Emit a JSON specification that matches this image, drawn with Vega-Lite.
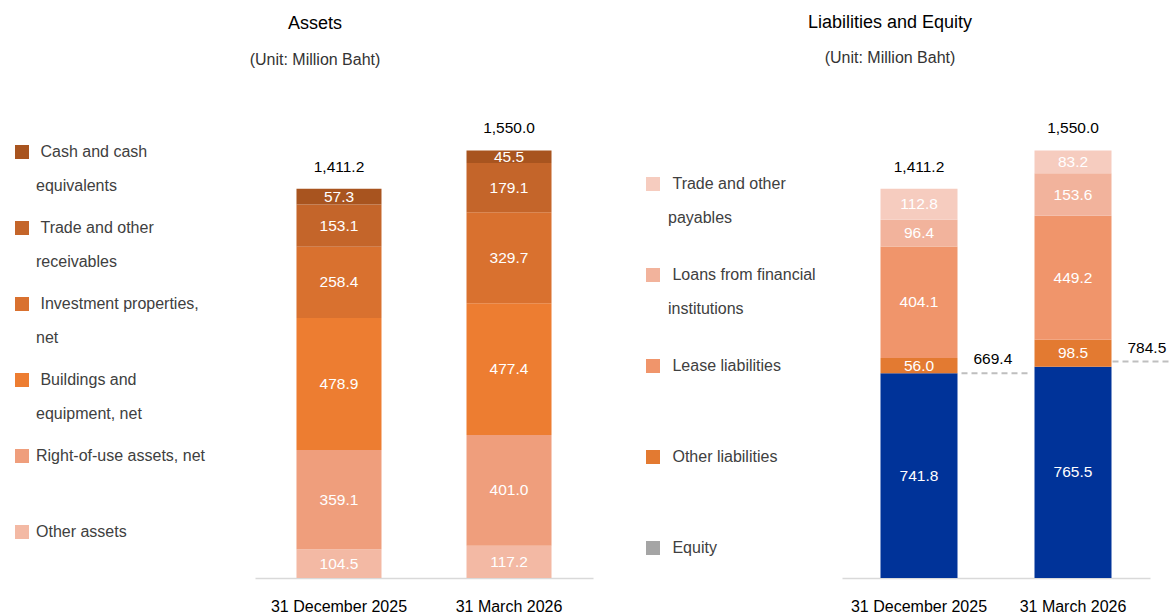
{
  "$schema": "https://vega.github.io/schema/vega-lite/v6.json",
  "autosize": {"type": "pad"},
  "padding": {"left": 14, "top": 14, "right": 0, "bottom": 0},
  "spacing": 249,
  "bounds": "flush",
  "config": {
    "view": {"stroke": null},
    "font": "Liberation Sans",
    "axisX": {"labelFontSize": 16, "labelColor": "#000000", "labelFont": "Liberation Sans", "ticks": false, "tickSize": 0, "labelPadding": 20, "domainColor": "#D9D9D9", "domainWidth": 1.5, "grid": false, "labelAngle": 0},
    "text": {"font": "Liberation Sans"}
  },
  "resolve": {"scale": {"color": "independent", "x": "independent", "y": "independent"}, "legend": {"color": "independent"}},
  "hconcat": [
    {
      "width": 338,
      "height": 469,
      "title": {"text": "Assets", "subtitle": "(Unit: Million Baht)", "frame": "group", "anchor": "middle", "dx": -109, "offset": 41, "fontSize": 18, "fontWeight": "normal", "font": "Liberation Sans", "color": "#000000", "subtitleFontSize": 16, "subtitleColor": "#333333", "subtitleFont": "Liberation Sans", "subtitlePadding": 19},
      "data": {"values": [
        {"date": "31 December 2025", "category": "Other assets", "value": 104.5, "order": 1},
        {"date": "31 December 2025", "category": "Right-of-use assets, net", "value": 359.1, "order": 2},
        {"date": "31 December 2025", "category": "Buildings and equipment, net", "value": 478.9, "order": 3},
        {"date": "31 December 2025", "category": "Investment properties, net", "value": 258.4, "order": 4},
        {"date": "31 December 2025", "category": "Trade and other receivables", "value": 153.1, "order": 5},
        {"date": "31 December 2025", "category": "Cash and cash equivalents", "value": 57.3, "order": 6},
        {"date": "31 March 2026", "category": "Other assets", "value": 117.2, "order": 1},
        {"date": "31 March 2026", "category": "Right-of-use assets, net", "value": 401.0, "order": 2},
        {"date": "31 March 2026", "category": "Buildings and equipment, net", "value": 477.4, "order": 3},
        {"date": "31 March 2026", "category": "Investment properties, net", "value": 329.7, "order": 4},
        {"date": "31 March 2026", "category": "Trade and other receivables", "value": 179.1, "order": 5},
        {"date": "31 March 2026", "category": "Cash and cash equivalents", "value": 45.5, "order": 6}
      ]},
      "encoding": {
        "x": {"field": "date", "type": "nominal", "title": null, "scale": {"paddingInner": 0.5, "paddingOuter": 0.244}}
      },
      "layer": [
        {
          "mark": {"type": "bar"},
          "encoding": {
            "y": {"field": "value", "type": "quantitative", "stack": "zero", "axis": null, "scale": {"domain": [0, 1700], "nice": false}},
            "color": {
              "field": "category", "type": "nominal",
              "scale": {
                "domain": ["Cash and cash equivalents", "Trade and other receivables", "Investment properties, net", "Buildings and equipment, net", "Right-of-use assets, net", "Other assets"],
                "range": ["#A8541F", "#C4652A", "#D9712F", "#ED7D31", "#EF9E7C", "#F3B9A4"]
              },
              "legend": {
                "orient": "none", "legendX": -241, "legendY": 35, "title": null,
                "symbolType": "square", "symbolSize": 196, "symbolStrokeWidth": 0,
                "labelFont": "Liberation Sans", "labelFontSize": 16, "labelColor": "#404040",
                "labelOffset": 6, "labelLimit": 400, "labelOverlap": false, "rowPadding": 26,
                "labelExpr": "datum.label == 'Cash and cash equivalents' ? ['\u200b\u00a0Cash and cash', 'equivalents'] : datum.label == 'Trade and other receivables' ? ['\u200b\u00a0Trade and other', 'receivables'] : datum.label == 'Investment properties, net' ? ['\u200b\u00a0Investment properties,', 'net'] : datum.label == 'Buildings and equipment, net' ? ['\u200b\u00a0Buildings and', 'equipment, net'] : [datum.label, '']",
                "encode": {"labels": {"update": {"lineHeight": {"value": 34}}}}
              }
            },
            "order": {"field": "order", "type": "quantitative"}
          }
        },
        {
          "mark": {"type": "text", "color": "#FFFFFF", "fontSize": 15.5, "baseline": "middle"},
          "encoding": {
            "y": {"field": "value", "type": "quantitative", "stack": "zero", "bandPosition": 0.5, "axis": null},
            "detail": {"field": "category"},
            "order": {"field": "order", "type": "quantitative"},
            "text": {"field": "value", "type": "quantitative", "format": ".1f"}
          }
        },
        {
          "data": {"values": [
            {"date": "31 December 2025", "total": 1411.2},
            {"date": "31 March 2026", "total": 1550.0}
          ]},
          "mark": {"type": "text", "color": "#000000", "fontSize": 15.5, "baseline": "middle", "dy": -22},
          "encoding": {
            "y": {"field": "total", "type": "quantitative", "axis": null},
            "text": {"field": "total", "type": "quantitative", "format": ",.1f"}
          }
        }
      ]
    },
    {
      "width": 308,
      "height": 469,
      "title": {"text": "Liabilities and Equity", "subtitle": "(Unit: Million Baht)", "frame": "group", "anchor": "middle", "dx": -106, "offset": 43, "fontSize": 18, "fontWeight": "normal", "font": "Liberation Sans", "color": "#000000", "subtitleFontSize": 16, "subtitleColor": "#333333", "subtitleFont": "Liberation Sans", "subtitlePadding": 18},
      "data": {"values": [
        {"date": "31 December 2025", "category": "Equity", "value": 741.8, "order": 1},
        {"date": "31 December 2025", "category": "Other liabilities", "value": 56.0, "order": 2},
        {"date": "31 December 2025", "category": "Lease liabilities", "value": 404.1, "order": 3},
        {"date": "31 December 2025", "category": "Loans from financial institutions", "value": 96.4, "order": 4},
        {"date": "31 December 2025", "category": "Trade and other payables", "value": 112.8, "order": 5},
        {"date": "31 March 2026", "category": "Equity", "value": 765.5, "order": 1},
        {"date": "31 March 2026", "category": "Other liabilities", "value": 98.5, "order": 2},
        {"date": "31 March 2026", "category": "Lease liabilities", "value": 449.2, "order": 3},
        {"date": "31 March 2026", "category": "Loans from financial institutions", "value": 153.6, "order": 4},
        {"date": "31 March 2026", "category": "Trade and other payables", "value": 83.2, "order": 5}
      ]},
      "encoding": {
        "x": {"field": "date", "type": "nominal", "title": null, "scale": {"paddingInner": 0.5, "paddingOuter": 0.25}}
      },
      "layer": [
        {
          "mark": {"type": "bar"},
          "encoding": {
            "y": {"field": "value", "type": "quantitative", "stack": "zero", "axis": null, "scale": {"domain": [0, 1700], "nice": false}},
            "color": {
              "field": "category", "type": "nominal",
              "condition": {"test": "datum.category === 'Equity'", "value": "#003399"},
              "scale": {
                "domain": ["Trade and other payables", "Loans from financial institutions", "Lease liabilities", "Other liabilities", "Equity"],
                "range": ["#F6CCBF", "#F2B39C", "#F0956B", "#E37A31", "#A5A5A5"]
              },
              "legend": {
                "orient": "none", "legendX": -197, "legendY": 67, "title": null,
                "symbolType": "square", "symbolSize": 196, "symbolStrokeWidth": 0,
                "labelFont": "Liberation Sans", "labelFontSize": 16, "labelColor": "#404040",
                "labelOffset": 7, "labelLimit": 400, "labelOverlap": false, "rowPadding": 41,
                "labelExpr": "datum.label == 'Trade and other payables' ? ['\u200b\u00a0Trade and other', 'payables'] : datum.label == 'Loans from financial institutions' ? ['\u200b\u00a0Loans from financial', 'institutions'] : ['\u200b\u00a0' + datum.label, '']",
                "encode": {"labels": {"update": {"lineHeight": {"value": 34}}}}
              }
            },
            "order": {"field": "order", "type": "quantitative"}
          }
        },
        {
          "mark": {"type": "text", "color": "#FFFFFF", "fontSize": 15.5, "baseline": "middle"},
          "encoding": {
            "y": {"field": "value", "type": "quantitative", "stack": "zero", "bandPosition": 0.5, "axis": null},
            "detail": {"field": "category"},
            "order": {"field": "order", "type": "quantitative"},
            "text": {"field": "value", "type": "quantitative", "format": ".1f"}
          }
        },
        {
          "data": {"values": [
            {"date": "31 December 2025", "total": 1411.2},
            {"date": "31 March 2026", "total": 1550.0}
          ]},
          "mark": {"type": "text", "color": "#000000", "fontSize": 15.5, "baseline": "middle", "dy": -22},
          "encoding": {
            "y": {"field": "total", "type": "quantitative", "axis": null},
            "text": {"field": "total", "type": "quantitative", "format": ",.1f"}
          }
        },
        {
          "data": {"values": [{"date": "31 December 2025", "level": 741.8}]},
          "mark": {"type": "rule", "color": "#BFBFBF", "strokeWidth": 2, "strokeDash": [6, 4], "xOffset": 4, "x2Offset": 72},
          "encoding": {
            "x": {"field": "date", "type": "nominal", "title": null, "bandPosition": 1},
            "x2": {"field": "date", "bandPosition": 1},
            "y": {"field": "level", "type": "quantitative", "axis": null}
          }
        },
        {
          "data": {"values": [{"date": "31 March 2026", "level": 784.5}]},
          "mark": {"type": "rule", "color": "#BFBFBF", "strokeWidth": 2, "strokeDash": [6, 4], "xOffset": 1, "x2Offset": 59},
          "encoding": {
            "x": {"field": "date", "type": "nominal", "title": null, "bandPosition": 1},
            "x2": {"field": "date", "bandPosition": 1},
            "y": {"field": "level", "type": "quantitative", "axis": null}
          }
        },
        {
          "data": {"values": [
            {"date": "31 December 2025", "level": 741.8, "liabilities": 669.4},
            {"date": "31 March 2026", "level": 784.5, "liabilities": 784.5}
          ]},
          "mark": {"type": "text", "color": "#000000", "fontSize": 15.5, "align": "left", "baseline": "middle", "dx": 16, "dy": -14},
          "encoding": {
            "x": {"field": "date", "type": "nominal", "title": null, "bandPosition": 1},
            "y": {"field": "level", "type": "quantitative", "axis": null},
            "text": {"field": "liabilities", "type": "quantitative", "format": ".1f"}
          }
        }
      ]
    }
  ]
}
